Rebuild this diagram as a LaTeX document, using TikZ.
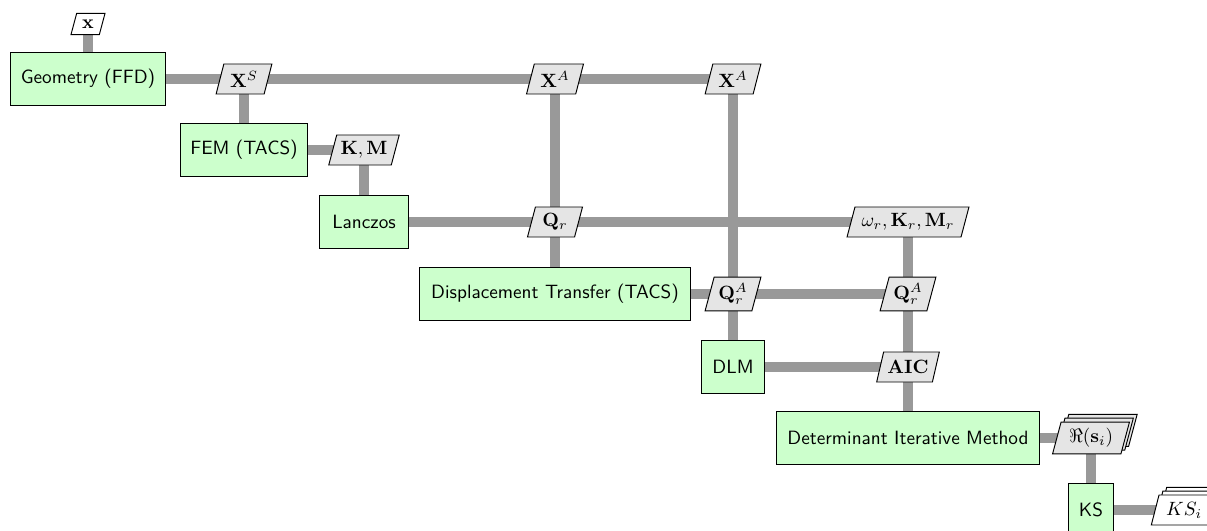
\documentclass[tikz,border=0pt]{standalone}
\usetikzlibrary{shapes.geometric,shadows,backgrounds}
\tikzset{
  fn/.style={draw=black, fill=green!20, minimum height=28pt, inner xsep=4pt, font=\sffamily, line width=0.5pt},
  dat/.style={draw=black, fill=black!10, trapezium, trapezium left angle=75, trapezium right angle=105, trapezium stretches body, minimum height=15.6pt, inner xsep=2pt, inner ysep=3.3pt, line width=0.5pt},
  inp/.style={dat, fill=white},
  stackd/.style={double copy shadow={shadow xshift=2pt, shadow yshift=2pt}},
  dline/.style={draw=black!40, line width=4.7pt},
}
\begin{document}
\begin{tikzpicture}[x=0.52pt, y=-0.52pt]
\useasboundingbox (0,0) rectangle (1207,531);
\node[inp, minimum width=17.7pt, minimum height=11pt] (x) at (88,24) {$\mathbf{x}$};
\node[fn, minimum width=81pt] (geo) at (88,79) {Geometry (FFD)};
\node[dat, minimum width=29pt] (xs) at (244,79) {$\mathbf{X}^S$};
\node[dat, minimum width=29.6pt] (xa1) at (555,79) {$\mathbf{X}^A$};
\node[dat, minimum width=29pt] (xa2) at (733,79) {$\mathbf{X}^A$};
\node[fn, minimum width=66pt] (fem) at (244,150) {FEM (TACS)};
\node[dat, minimum width=33.3pt] (km) at (364,150) {$\mathbf{K},\mathbf{M}$};
\node[fn, minimum width=46pt] (lan) at (364,222) {Lanczos};
\node[dat, minimum width=28.6pt] (qr) at (555,222) {$\mathbf{Q}_r$};
\node[dat, minimum width=63.4pt] (wkm) at (908,222) {$\omega_r,\mathbf{K}_r,\mathbf{M}_r$};
\node[fn, minimum width=141pt] (disp) at (555,294) {Displacement Transfer (TACS)};
\node[dat, minimum width=29pt] (qa1) at (733,294) {$\mathbf{Q}_r^A$};
\node[dat, minimum width=29pt] (qa2) at (908,294) {$\mathbf{Q}_r^A$};
\node[fn, minimum width=33pt] (dlm) at (733,367) {DLM};
\node[dat, minimum width=30pt] (aic) at (908,367) {$\mathbf{AIC}$};
\node[fn, minimum width=137pt] (dim) at (908,438) {Determinant Iterative Method};
\node[dat, stackd, minimum width=40pt] (re) at (1091,438) {$\Re(\mathbf{s}_i)$};
\node[fn, minimum width=23.4pt] (ks) at (1091,510) {KS};
\node[inp, stackd, minimum width=34pt] (ksi) at (1184,510) {$KS_i$};
\begin{scope}[on background layer]
\draw[dline] (x.center) -- (geo.center);
\draw[dline] (geo.center) -- (xa2.center);
\draw[dline] (xs.center) -- (fem.center);
\draw[dline] (fem.center) -- (km.center);
\draw[dline] (km.center) -- (lan.center);
\draw[dline] (lan.center) -- (wkm.center);
\draw[dline] (xa1.center) -- (disp.center);
\draw[dline] (xa2.center) -- (dlm.center);
\draw[dline] (disp.center) -- (qa2.center);
\draw[dline] (wkm.center) -- (dim.center);
\draw[dline] (dlm.center) -- (aic.center);
\draw[dline] (dim.center) -- (re.center);
\draw[dline] (re.center) -- (ks.center);
\draw[dline] (ks.center) -- (ksi.center);
\end{scope}
\end{tikzpicture}
\end{document}
